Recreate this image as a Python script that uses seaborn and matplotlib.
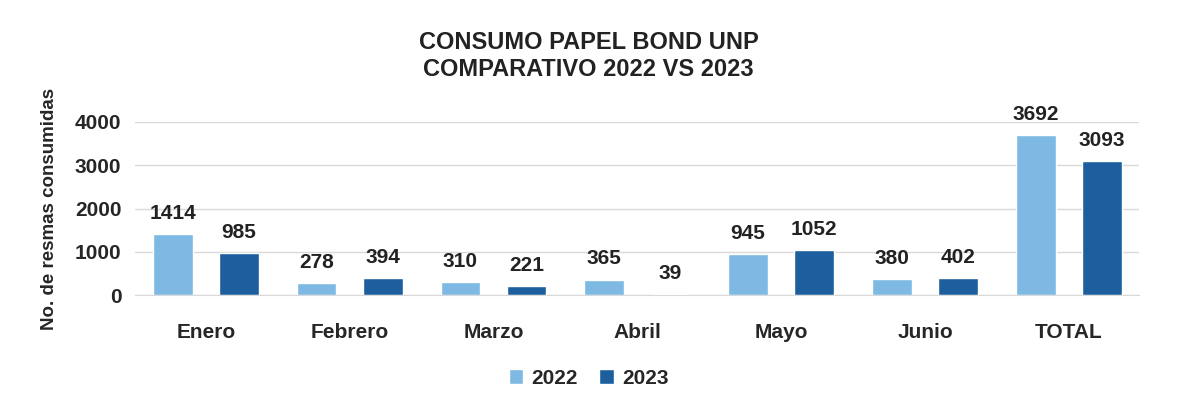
import matplotlib.pyplot as plt
import seaborn as sns
import pandas as pd

meses = ["Enero", "Febrero", "Marzo", "Abril", "Mayo", "Junio", "TOTAL"]
valores_2022 = [1414, 278, 310, 365, 945, 380, 3692]
valores_2023 = [985, 394, 221, 39, 1052, 402, 3093]
anios = ["2022", "2023"]
colores = ["#7DB9E3", "#1D5F9E"]

df = pd.DataFrame({
    "Mes": meses * 2,
    "Anio": [anios[0]] * len(meses) + [anios[1]] * len(meses),
    "Resmas": valores_2022 + valores_2023,
})

sns.set_style("white")
plt.rcParams["font.family"] = ["Liberation Sans", "DejaVu Sans"]

fig = plt.figure(figsize=(11.77, 4.16), dpi=100)
ax = fig.add_axes([0.115, 0.29, 0.853, 0.417])

sns.barplot(data=df, x="Mes", y="Resmas", hue="Anio", order=meses,
            hue_order=anios, palette=colores, width=0.92, gap=0.4,
            saturation=1, ax=ax)

# etiquetas de valor
for cont in ax.containers:
    ax.bar_label(cont, padding=8, fontsize=15, fontweight="bold",
                 color="#222222", clip_on=False)

ax.set_ylim(0, 4000)
ax.set_xlim(-0.49, 6.49)
ax.set_yticks([0, 1000, 2000, 3000, 4000])
ax.yaxis.grid(True, color="#D9D9D9", linewidth=1)
ax.set_axisbelow(True)
for s in ["top", "right", "left"]:
    ax.spines[s].set_visible(False)
ax.spines["bottom"].set_color("#D9D9D9")
ax.tick_params(axis="y", length=0, labelsize=15, pad=10)
ax.tick_params(axis="x", length=0, labelsize=15, pad=20)
for lbl in ax.get_xticklabels() + ax.get_yticklabels():
    lbl.set_fontweight("bold")
ax.set_xlabel("")
ax.set_ylabel("No. de resmas consumidas", fontsize=13.5, fontweight="bold", labelpad=12)

fig.suptitle("CONSUMO PAPEL BOND UNP\nCOMPARATIVO 2022 VS 2023", x=0.5, y=0.925,
             fontsize=17, fontweight="bold", color="#222222", linespacing=1.2)

ax.legend_.remove()
handles, labels = ax.get_legend_handles_labels()
fig.legend(handles, labels, loc="center", bbox_to_anchor=(0.5, 0.09), ncol=2,
           frameon=False, prop={"size": 15, "weight": "bold"},
           handlelength=0.7, handleheight=0.7, handletextpad=0.4, columnspacing=1.0)

plt.savefig("out.png", dpi=100)
